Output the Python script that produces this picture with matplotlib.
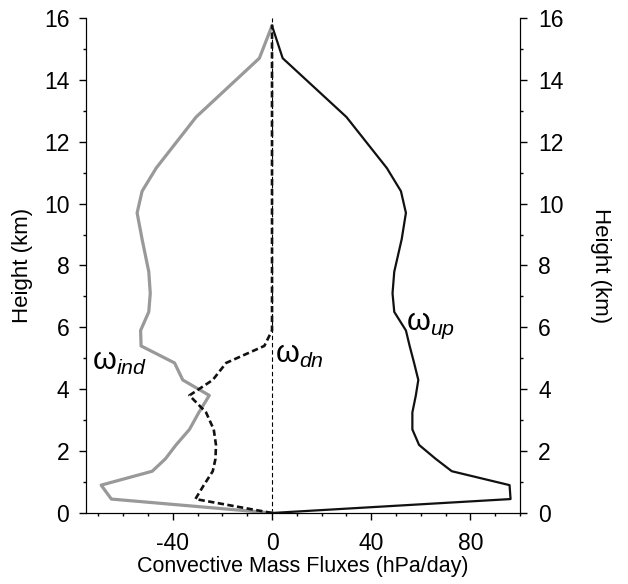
import matplotlib.pyplot as plt
from matplotlib.ticker import MultipleLocator

plt.rcParams['font.family'] = ['Liberation Sans', 'DejaVu Sans']
plt.rcParams['axes.unicode_minus'] = False
plt.rcParams['mathtext.fontset'] = 'custom'
plt.rcParams['mathtext.rm'] = 'Liberation Sans'
plt.rcParams['mathtext.it'] = 'Liberation Sans:italic'

# height levels (km)
height = [0, 0.45, 0.9, 1.35, 1.75, 2.2, 2.7, 3.25, 3.8, 4.3, 4.85, 5.4, 5.9,
          6.5, 7.1, 7.8, 8.85, 9.7, 10.4, 11.15, 12.8, 14.7, 15.75]

# convective mass fluxes (hPa/day)
w_up = [0, 96.2, 95.8, 72.5, 66, 59.3, 56.6, 56.6, 58, 59, 57.3, 55.5, 54,
        49.3, 48.6, 49.3, 52.3, 54, 52, 46.3, 30, 4.3, 0]
w_ind = [0, -64.8, -68.9, -48.3, -43, -38.7, -33.3, -29.5, -25.3, -36, -39.3,
         -52.8, -53, -49.7, -49.1, -49.7, -52.4, -54.4, -52.4, -46.7, -30.6, -5.1, 0]
w_dn = [0, -30.9, -27.5, -23.9, -22.8, -22.6, -23.5, -26.6, -33.3, -23.9, -18.5,
        -3.1, 0, 0, 0, 0, 0, 0, 0, 0, 0, 0, 0]

fig = plt.figure(figsize=(6.28, 5.84), dpi=100)
ax = fig.add_axes([0.137, 0.1216, 0.691, 0.8476])

ax.axvline(0, color='black', lw=0.8, ls=(0, (4, 2.5)))
ax.plot(w_ind, height, color='#999999', lw=2.3)
ax.plot(w_dn, height, color='#111111', lw=1.9, ls=(0, (2.4, 1.3)))
ax.plot(w_up, height, color='#111111', lw=1.6)

# curve labels
ax.text(-72.6, 4.88, 'ω$_{ind}$', fontsize=22, ha='left', va='center')
ax.text(1.4, 5.1, 'ω$_{dn}$', fontsize=22, ha='left', va='center')
ax.text(54, 6.05, 'ω$_{up}$', fontsize=22, ha='left', va='center')

ax.set_xlim(-75, 100)
ax.set_ylim(0, 16)
ax.set_xticks([-40, 0, 40, 80])
ax.xaxis.set_minor_locator(MultipleLocator(10))
ax.yaxis.set_major_locator(MultipleLocator(2))
ax.yaxis.set_minor_locator(MultipleLocator(1))
ax.spines['top'].set_visible(False)
ax.tick_params(which='major', direction='out', length=5, width=1, labelsize=16.5)
ax.tick_params(which='minor', direction='out', length=2.5, width=1)
ax.tick_params(axis='y', which='major', pad=7)
ax.tick_params(axis='x', which='major', pad=9)
ax.set_xlabel('Convective Mass Fluxes (hPa/day)', fontsize=15.5, labelpad=0.5)
ax.set_ylabel('Height (km)', fontsize=16, va='bottom')
ax.yaxis.set_label_coords(-0.122, 0.5)

ax2 = ax.twinx()
ax2.set_ylim(0, 16)
ax2.yaxis.set_major_locator(MultipleLocator(2))
ax2.yaxis.set_minor_locator(MultipleLocator(1))
ax2.spines['top'].set_visible(False)
ax2.tick_params(which='major', direction='out', length=5, width=1, labelsize=16.5, pad=8)
ax2.tick_params(which='minor', direction='out', length=2.5, width=1)
ax2.set_ylabel('Height (km)', fontsize=16, rotation=270, va='bottom')
ax2.yaxis.set_label_coords(1.161, 0.5)

fig.savefig('out.png', dpi=100)
